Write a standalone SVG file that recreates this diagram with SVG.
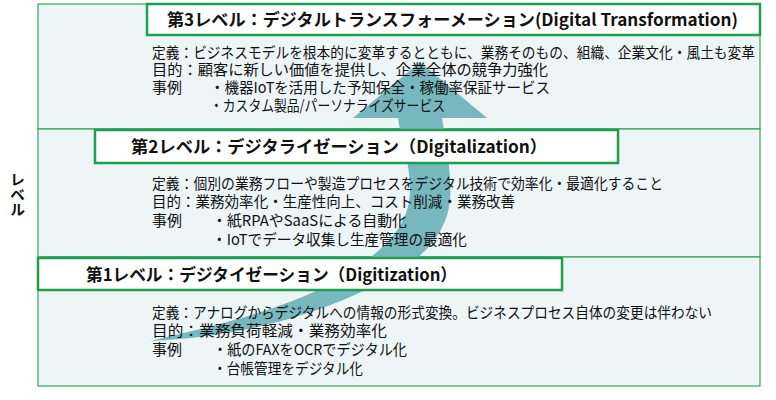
<svg xmlns="http://www.w3.org/2000/svg" width="776" height="400" viewBox="0 0 776 400">
  <style>
    .region { fill: #EDF5F7; stroke: #2EA85C; stroke-width: 1.2; }
    .title-box { fill: #FFFFFF; stroke: #1F9E50; stroke-width: 2.5; }
    .title { font-family: "Noto Sans CJK JP", "Noto Sans", sans-serif; font-size: 17px; font-weight: bold; fill: #111111; }
    .body { font-family: "Noto Sans CJK JP", "Noto Sans", sans-serif; font-size: 15px; fill: #111111; }
    .side { font-family: "Noto Sans CJK JP", sans-serif; font-size: 15px; font-weight: bold; fill: #111111; writing-mode: vertical-rl; }
    .arrow { fill: #77B7BE; }
  </style>
  <rect width="776" height="400" fill="#FFFFFF"/>

  <!-- region backgrounds -->
  <g id="regions">
    <rect class="region" x="38" y="4" width="722" height="125"/>
    <rect class="region" x="38" y="129" width="722" height="128"/>
    <rect class="region" x="38" y="257" width="722" height="129"/>
  </g>

  <!-- connector: curved upward arrow -->
  <g id="connectors">
    <path class="arrow" d="M150,341 C220,325 300,305 345,275 C385,250 410,225 410,190 C410,160 400,135 398,118 L353,118 L420,62 L487,118 L442,118 C446,145 452,175 450,200 C447,235 420,262 380,282 C340,305 260,336 150,341 Z"/>
  </g>

  <!-- side label -->
  <g id="axis-label">
    <text class="side" x="17.5" y="172">レベル</text>
  </g>

  <!-- Level 3 -->
  <g id="level3">
    <rect class="title-box" x="147" y="4" width="613" height="31"/>
    <text class="title" x="167" y="26" textLength="571" lengthAdjust="spacingAndGlyphs">第3レベル：デジタルトランスフォーメーション(Digital Transformation)</text>
    <text class="body" x="152" y="57.7" textLength="603" lengthAdjust="spacingAndGlyphs">定義：ビジネスモデルを根本的に変革するとともに、業務そのもの、組織、企業文化・風土も変革</text>
    <text class="body" x="152" y="75.2" textLength="396" lengthAdjust="spacingAndGlyphs">目的：顧客に新しい価値を提供し、企業全体の競争力強化</text>
    <text class="body" x="152" y="93.2">事例</text>
    <text class="body" x="210" y="93.2" textLength="340" lengthAdjust="spacingAndGlyphs">・機器IoTを活用した予知保全・稼働率保証サービス</text>
    <text class="body" x="210" y="111.2" textLength="235" lengthAdjust="spacingAndGlyphs">・カスタム製品/パーソナライズサービス</text>
  </g>

  <!-- Level 2 -->
  <g id="level2">
    <rect class="title-box" x="95" y="130" width="523" height="33"/>
    <text class="title" x="131" y="152.5" textLength="416" lengthAdjust="spacingAndGlyphs">第2レベル：デジタライゼーション（Digitalization）</text>
    <text class="body" x="152" y="189" textLength="511" lengthAdjust="spacingAndGlyphs">定義：個別の業務フローや製造プロセスをデジタル技術で効率化・最適化すること</text>
    <text class="body" x="152" y="207" textLength="363" lengthAdjust="spacingAndGlyphs">目的：業務効率化・生産性向上、コスト削減・業務改善</text>
    <text class="body" x="152" y="226">事例</text>
    <text class="body" x="212" y="226" textLength="195" lengthAdjust="spacingAndGlyphs">・紙RPAやSaaSによる自動化</text>
    <text class="body" x="212" y="245" textLength="255" lengthAdjust="spacingAndGlyphs">・IoTでデータ収集し生産管理の最適化</text>
  </g>

  <!-- Level 1 -->
  <g id="level1">
    <rect class="title-box" x="38" y="258" width="524" height="32"/>
    <text class="title" x="86" y="281" textLength="371" lengthAdjust="spacingAndGlyphs">第1レベル：デジタイゼーション（Digitization）</text>
    <text class="body" x="152" y="317.5" textLength="560" lengthAdjust="spacingAndGlyphs">定義：アナログからデジタルへの情報の形式変換。ビジネスプロセス自体の変更は伴わない</text>
    <text class="body" x="152" y="336" textLength="235" lengthAdjust="spacingAndGlyphs">目的：業務負荷軽減・業務効率化</text>
    <text class="body" x="152" y="355">事例</text>
    <text class="body" x="213" y="355" textLength="194" lengthAdjust="spacingAndGlyphs">・紙のFAXをOCRでデジタル化</text>
    <text class="body" x="213" y="374" textLength="150" lengthAdjust="spacingAndGlyphs">・台帳管理をデジタル化</text>
  </g>
</svg>
